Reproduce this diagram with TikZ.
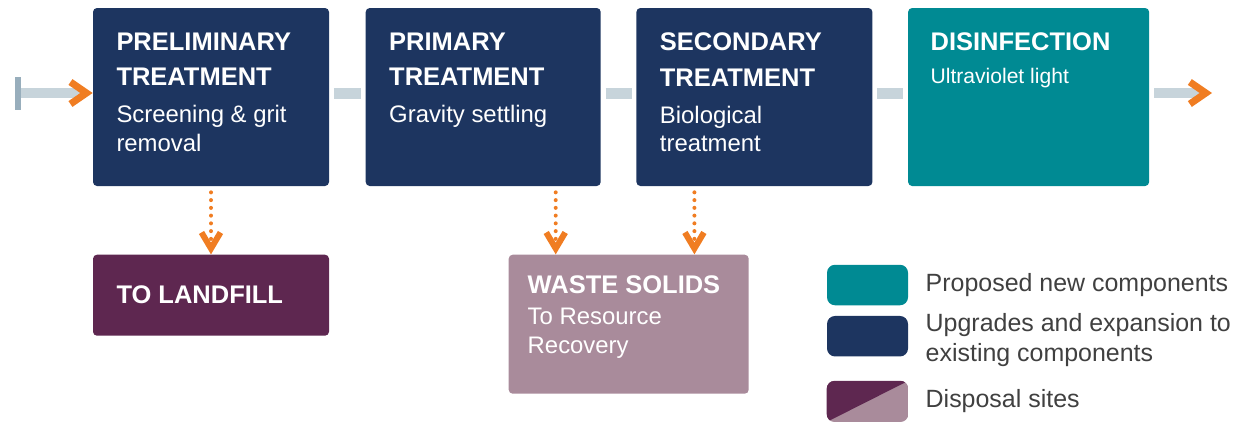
\documentclass[tikz,border=0pt]{standalone}
\usepackage{fontspec}
\setmainfont{Liberation Sans}
\usetikzlibrary{arrows.meta, positioning}

\definecolor{navy}{HTML}{1D3560}
\definecolor{tealnew}{HTML}{008A93}
\definecolor{plum}{HTML}{5E2750}
\definecolor{mauve}{HTML}{A98B9B}
\definecolor{floworange}{HTML}{F07D22}
\definecolor{pipegray}{HTML}{C7D4DB}
\definecolor{pipeend}{HTML}{98AEBC}
\definecolor{keytext}{HTML}{404040}

\begin{document}
\begin{tikzpicture}[
        node distance=0.7cm,
        stagebox/.style={rectangle, rounded corners=0.08cm, minimum width=4.72cm, minimum height=3.56cm, inner sep=0pt},
        upgradebox/.style={stagebox, fill=navy},
        newbox/.style={stagebox, fill=tealnew, minimum width=4.82cm},
        stagetitle/.style={anchor=north west, inner sep=0pt, align=left, text=white, font=\fontsize{14.5}{20.4}\selectfont\bfseries},
        stagenote/.style={anchor=north west, inner sep=0pt, align=left, text=white, font=\fontsize{13.6}{16}\selectfont},
        keybox/.style={rectangle, rounded corners=0.16cm, minimum width=1.62cm, minimum height=0.81cm, inner sep=0pt},
        keylabel/.style={anchor=west, inner sep=0pt, align=left, text=keytext, font=\fontsize{14.2}{17}\selectfont},
        pipe/.style={draw=pipegray, line width=0.22cm, shorten <=0.09cm, shorten >=0.09cm},
        flowpipe/.style={draw=pipegray, line width=0.2cm, -{Straight Barb[color=floworange, length=0.32cm, width=0.44cm, line width=0.14cm, sharp]}},
        inletpipe/.style={draw=pipegray, line width=0.2cm, {Bar[width=0.66cm, line width=0.12cm, color=pipeend]}-{Straight Barb[color=floworange, length=0.32cm, width=0.44cm, line width=0.14cm, sharp]}},
        dotarrow/.style={draw=floworange, line width=0.08cm, line cap=round, dash pattern=on 0pt off 0.155cm, shorten <=0.12cm, -{Straight Barb[length=0.32cm, width=0.38cm, line width=0.12cm, sharp]}}
    ]
    \useasboundingbox (0,0) rectangle (24.8,-8.42);

    % Treatment stages
    \node[upgradebox] (prelim) at (4.22,-1.94) {};
    \node[upgradebox, right=0.72cm of prelim, minimum width=4.70cm] (primary) {};
    \node[upgradebox, right=of primary] (secondary) {};
    \node[newbox, right=of secondary] (disinf) {};

    \node[stagetitle] (prelimtitle) at ([shift={(0.47,-0.49)}]prelim.north west) {PRELIMINARY\\TREATMENT};
    \node[stagenote] (prelimnote) at ([yshift=-0.38cm]prelimtitle.south west) {Screening \& grit\\removal};
    \node[stagetitle] (primarytitle) at ([shift={(0.47,-0.49)}]primary.north west) {PRIMARY\\TREATMENT};
    \node[stagenote] (primarynote) at ([yshift=-0.38cm]primarytitle.south west) {Gravity settling};
    \node[stagetitle] (secondarytitle) at ([shift={(0.47,-0.49)}]secondary.north west) {SECONDARY\\TREATMENT};
    \node[stagenote] (secondarynote) at ([yshift=-0.38cm]secondarytitle.south west) {Biological\\treatment};
    \node[stagetitle] (disinftitle) at ([shift={(0.45,-0.49)}]disinf.north west) {DISINFECTION};
    \node[stagenote, font=\fontsize{12}{14}\selectfont] (disinfnote) at ([yshift=-0.33cm]disinftitle.south west) {Ultraviolet light};

    % Disposal sites
    \node[stagebox, fill=plum, minimum height=1.62cm, below=1.36cm of prelim] (landfill) {};
    \node[stagetitle, anchor=west] (landfilltitle) at ([xshift=0.47cm]landfill.west) {TO LANDFILL};
    \node[stagebox, fill=mauve, minimum width=4.8cm, minimum height=2.78cm, below=1.36cm of primary, xshift=2.91cm] (waste) {};
    \node[stagetitle] (wastetitle) at ([shift={(0.38,-0.42)}]waste.north west) {WASTE SOLIDS};
    \node[stagenote] (wastenote) at ([yshift=-0.28cm]wastetitle.south west) {To Resource\\Recovery};

    % Flow line
    \coordinate (inlet) at (0.30,-1.86);
    \coordinate (outlet) at (24.24,-1.86);
    \draw[inletpipe] (inlet) -- (inlet -| prelim.west);
    \draw[pipe] (prelim.east |- inlet) -- (primary.west |- inlet);
    \draw[pipe] (primary.east |- inlet) -- (secondary.west |- inlet);
    \draw[pipe] (secondary.east |- inlet) -- (disinf.west |- inlet);
    \draw[flowpipe, shorten <=0.1cm] (disinf.east |- outlet) -- (outlet);

    % Solids to disposal
    \draw[dotarrow] (prelim.south) -- (landfill.north);
    \draw[dotarrow] ([xshift=1.45cm]primary.south) -- ([xshift=1.45cm]primary.south |- waste.north);
    \draw[dotarrow] ([xshift=-1.2cm]secondary.south) -- ([xshift=-1.2cm]secondary.south |- waste.north);

    % Legend
    \node[keybox, fill=tealnew] (keynew) at (17.35,-5.70) {};
    \node[keybox, fill=navy, below=0.2cm of keynew] (keyupgrade) {};
    \node[keybox, below=0.48cm of keyupgrade] (keydisposal) {};
    \begin{scope}
        \clip[rounded corners=0.16cm] (keydisposal.north west) rectangle (keydisposal.south east);
        \fill[mauve] (keydisposal.north west) rectangle (keydisposal.south east);
        \fill[plum] (keydisposal.north west) -- (keydisposal.north east) -- (keydisposal.south west) -- cycle;
    \end{scope}
    \node[keylabel] (keynewlabel) at ([xshift=0.34cm]keynew.east) {Proposed new components};
    \node[keylabel] (keyupgradelabel) at ([shift={(0.34,-0.08)}]keyupgrade.east) {Upgrades and expansion to\\existing components};
    \node[keylabel] (keydisposallabel) at ([xshift=0.34cm]keydisposal.east) {Disposal sites};

\end{tikzpicture}
\end{document}
